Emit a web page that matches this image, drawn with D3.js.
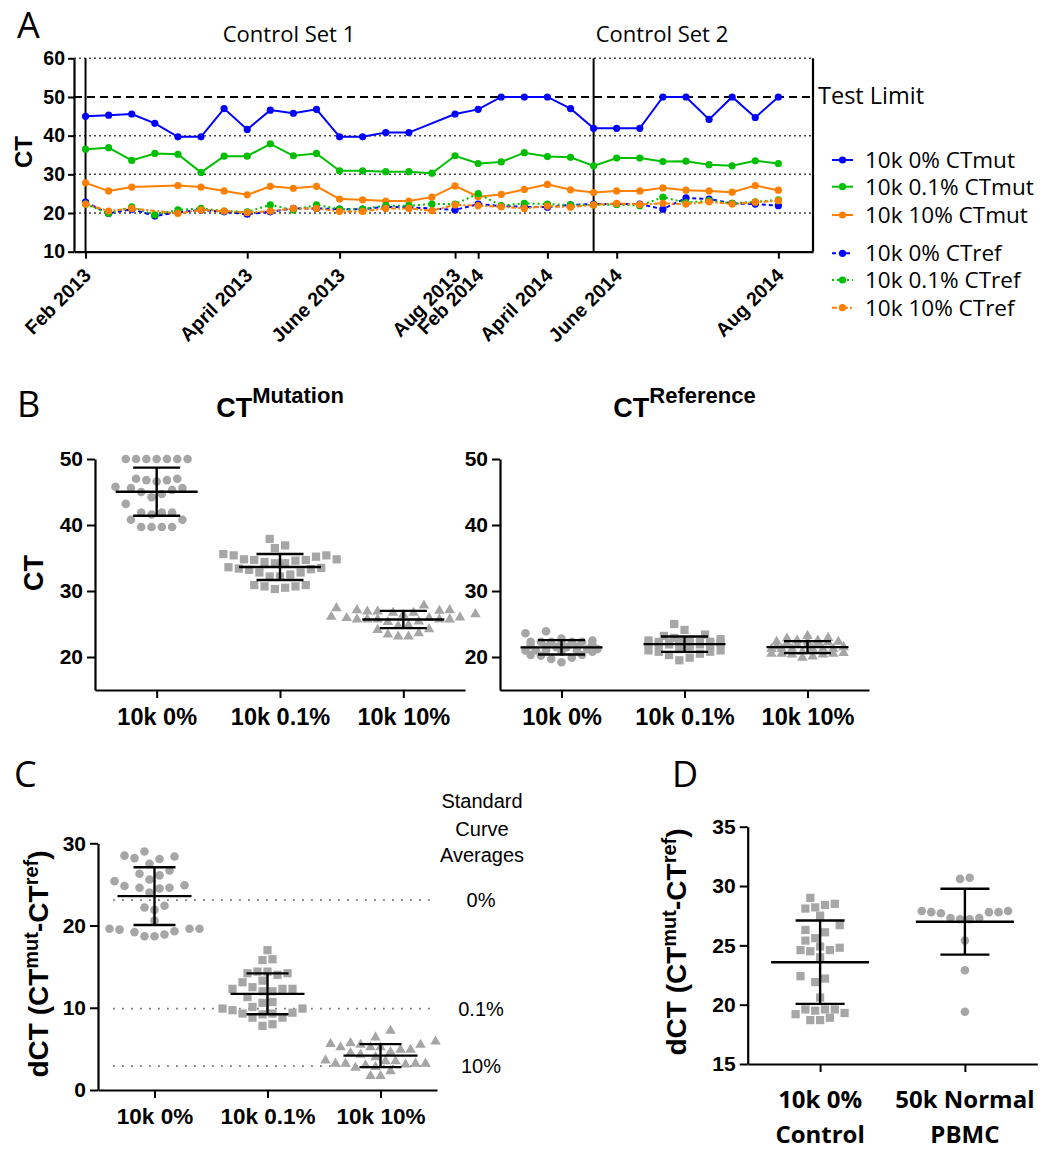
<!DOCTYPE html>
<html>
<head>
<meta charset="utf-8">
<script src="https://cdn.jsdelivr.net/npm/d3@7"></script>
<style>
  body { margin: 0; background: #fff; }
  svg { display: block; }
</style>
</head>
<body>
<svg id="fig" width="1061" height="1149"></svg>
<script>
// ---------------- data ----------------
// Panel A: one value per control run (null = run not recorded)
const runIndex = d3.range(31);
const dateTickIndex = [0, 7, 11, 16, 17, 20, 23, 30];
const dateTickLabels = ["Feb 2013", "April 2013", "June 2013", "Aug 2013", "Feb 2014", "April 2014", "June 2014", "Aug 2014"];
const controlSetStart = [0, 22];
const controlSetLabels = ["Control Set 1", "Control Set 2"];
const testLimit = 50;

const ctMut0  = [45.0,45.3,45.6,43.2,39.7,39.7,47.0,41.6,46.6,45.8,46.8,39.7,39.7,40.8,40.8,null,45.6,46.8,50,50,50,47.0,41.9,41.9,41.9,50,50,44.2,50,44.7,50];
const ctMut01 = [36.5,36.9,33.6,35.4,35.2,30.5,34.7,34.7,37.9,34.8,35.4,30.9,30.9,30.7,30.7,30.3,34.8,32.8,33.2,35.6,34.6,34.4,32.2,34.2,34.2,33.3,33.4,32.5,32.2,33.5,32.8];
const ctMut10 = [27.8,25.7,26.7,null,27.1,26.7,25.7,24.7,26.9,26.4,26.9,23.6,23.4,23.1,23.1,24.1,27.0,24.2,24.8,26.1,27.4,26.0,25.3,25.7,25.7,26.5,25.9,25.7,25.4,27.1,25.9];
const ctRef0  = [22.8,19.9,21.0,19.2,20.2,20.8,20.3,19.7,20.3,21.2,21.2,21.0,21.0,21.6,21.5,null,20.8,22.3,21.8,21.6,21.5,22.1,22.3,22.3,22.3,21.0,23.9,23.6,22.5,22.3,21.9];
const ctRef01 = [22.3,19.9,21.6,19.5,20.8,21.2,20.5,20.3,22.1,20.8,22.1,21.0,21.0,21.9,21.9,22.3,22.3,25.0,21.9,22.5,22.3,22.1,22.1,22.2,21.9,24.1,22.7,23.2,22.5,22.9,23.4];
const ctRef10 = [22.3,20.5,21.2,null,19.9,20.8,20.5,20.1,20.5,21.2,21.2,20.4,20.4,21.2,21.2,20.6,22.1,21.9,21.6,21.2,21.8,21.5,22.1,22.5,22.2,22.5,22.3,22.9,22.3,22.8,23.2];

const seriesNames  = ["10k 0% CTmut", "10k 0.1% CTmut", "10k 10% CTmut", "10k 0% CTref", "10k 0.1% CTref", "10k 10% CTref"];
const seriesValues = [ctMut0, ctMut01, ctMut10, ctRef0, ctRef01, ctRef10];

// Panels B-D
const dilutions = ["10k 0%", "10k 0.1%", "10k 10%"];
const dct0   = [22.2,25.4,24.6,24.0,19.5,18.9,26.7,21.9,26.3,24.6,25.6,18.7,18.7,19.2,19.3,24.8,24.5,28.2,28.4,28.5,24.9,19.6,19.6,19.6,29.0,26.1,20.6,27.5,22.4,28.1];
const dct01  = [14.2,17.0,12.0,15.9,14.4,9.3,14.2,14.4,15.8,14.0,13.3,9.9,9.9,8.8,8.8,8.0,12.5,7.8,11.3,13.1,12.3,12.3,10.1,12.0,12.3,9.2,10.7,9.3,9.7,10.6,9.4];
const dct10  = [5.5,5.2,5.5,7.2,5.9,5.2,4.6,6.4,5.2,5.7,3.2,3.0,1.7,1.7,3.5,4.9,2.3,3.2,4.9,5.6,4.5,3.2,3.2,3.5,4.0,3.6,2.8,3.1,4.3,2.7];
const stdCurveAverages = [23.1, 9.9, 2.9];
const stdCurveLabels = ["0%", "0.1%", "10%"];
const pbmcGroups = ["10k 0%|Control", "50k Normal|PBMC"];
const dctPbmc = [30.7,30.6,27.9,27.8,27.8,27.7,27.8,27.9,27.2,27.3,27.2,27.3,25.4,22.9,19.4];

// ---------------- style ----------------
const ARIAL = "'Liberation Sans', Arial, Helvetica, sans-serif";
const OPEN = "'Open Sans', 'Segoe UI', sans-serif";
const seriesColors = ["#0000ff", "#00bf00", "#ff7f00", "#0000ff", "#00bf00", "#ff7f00"];
const refDash = ["4,3", "2,3", "5,2,2,2"];
const DOT = "#a6a6a6";

const svg = d3.select("#fig");

function label(x, y, txt, size, opts = {}) {
  return svg.append("text").attr("x", x).attr("y", y)
    .attr("font-family", opts.family || OPEN)
    .attr("font-size", size)
    .attr("font-weight", opts.weight || "normal")
    .attr("text-anchor", opts.anchor || "start")
    .attr("fill", "#000").text(txt);
}

function styleAxis(g, size) {
  g.attr("font-family", ARIAL).attr("font-size", size).attr("font-weight", "bold");
  g.select(".domain").attr("stroke", "#000").attr("stroke-width", 2.2);
  g.selectAll(".tick line").attr("stroke", "#000").attr("stroke-width", 2);
  g.selectAll(".tick text").attr("fill", "#000");
}

// panel letters
label(17, 38, "A", 36);
label(17, 417, "B", 36);
label(14, 787, "C", 36);
label(672, 787, "D", 36);

// ================= Panel A =================
const ax = d3.scaleLinear().domain([-0.5, 31.5]).range([74, 813]);
const ay = d3.scaleLinear().domain([10, 60]).range([251.7, 58.3]);

// horizontal grid
const gA = svg.append("g");
gA.selectAll("line.grid").data([20, 30, 40, 60]).join("line")
  .attr("x1", ax(-0.5)).attr("x2", ax(31.5))
  .attr("y1", d => ay(d)).attr("y2", d => ay(d))
  .attr("stroke", "#444").attr("stroke-width", 1.5).attr("stroke-dasharray", "2,3");
gA.append("line")
  .attr("x1", ax(-0.5)).attr("x2", ax(31.5))
  .attr("y1", ay(testLimit)).attr("y2", ay(testLimit))
  .attr("stroke", "#000").attr("stroke-width", 1.8).attr("stroke-dasharray", "8,5");
label(818, 104, "Test Limit", 23.5);

// control set boundaries
controlSetStart.forEach(s => {
  gA.append("line").attr("x1", ax(s)).attr("x2", ax(s))
    .attr("y1", ay(60)).attr("y2", ay(10))
    .attr("stroke", "#000").attr("stroke-width", 2);
});
label(289, 42, controlSetLabels[0], 22, { anchor: "middle" });
label(662, 42, controlSetLabels[1], 22, { anchor: "middle" });

// right frame
gA.append("line").attr("x1", ax(31.5)).attr("x2", ax(31.5))
  .attr("y1", ay(60)).attr("y2", ay(10)).attr("stroke", "#000").attr("stroke-width", 2.2);

// axes
const gAy = svg.append("g").attr("transform", `translate(${ax(-0.5)},0)`)
  .call(d3.axisLeft(ay).tickValues([10, 20, 30, 40, 50, 60]).tickSize(6).tickSizeOuter(0).tickPadding(3));
styleAxis(gAy, 19.5);
const gAx = svg.append("g").attr("transform", `translate(0,${ay(10)})`)
  .call(d3.axisBottom(ax).tickValues(dateTickIndex).tickSize(7).tickSizeOuter(0)
    .tickFormat((d, i) => dateTickLabels[i]));
styleAxis(gAx, 19.5);
gAx.selectAll(".tick text")
  .attr("y", null).attr("dy", null)
  .attr("text-anchor", "end")
  .attr("transform", "translate(6,25) rotate(-45)");

svg.append("text").attr("transform", `translate(32,152) rotate(-90)`)
  .attr("text-anchor", "middle").attr("font-family", ARIAL).attr("font-weight", "bold")
  .attr("font-size", 24).text("CT");

// series lines (missing runs are bridged)
const lineGen = d3.line().x(d => ax(d.i)).y(d => ay(d.v));
seriesValues.forEach((vals, k) => {
  const pts = runIndex.map(i => ({ i, v: vals[i] })).filter(d => d.v != null);
  const g = svg.append("g");
  g.append("path").datum(pts).attr("d", lineGen).attr("fill", "none")
    .attr("stroke", seriesColors[k]).attr("stroke-width", 2)
    .attr("stroke-dasharray", k < 3 ? null : refDash[k - 3]);
  g.selectAll("circle").data(pts).join("circle")
    .attr("cx", d => ax(d.i)).attr("cy", d => ay(d.v)).attr("r", 3.6)
    .attr("fill", seriesColors[k]);
});

// legend
const legendY = [160, 186.7, 215, 253.3, 280, 307.7];
seriesNames.forEach((name, k) => {
  const g = svg.append("g");
  g.append("line").attr("x1", 832).attr("x2", 853).attr("y1", legendY[k]).attr("y2", legendY[k])
    .attr("stroke", seriesColors[k]).attr("stroke-width", 2)
    .attr("stroke-dasharray", k < 3 ? null : refDash[k - 3]);
  g.append("circle").attr("cx", 842.5).attr("cy", legendY[k]).attr("r", 3.6).attr("fill", seriesColors[k]);
  label(865, legendY[k] + 8, name, 22.5);
});

// ================= scatter-dot helpers =================
// Row-based swarm: values close in y share a row and are spread symmetrically,
// rows that would collide with earlier ones are pushed outward.
function swarm(values, y, d, maxHalf) {
  const pts = values.map(v => ({ v, py: y(v) })).sort((a, b) => b.py - a.py);
  const rows = [];
  let cur = null;
  for (const p of pts) {
    if (!cur || Math.abs(p.py - cur[0].py) > d * 0.5) { cur = [p]; rows.push(cur); }
    else cur.push(p);
  }
  const placed = [];
  for (const row of rows) {
    const half = row.length % 2 === 0 ? 0.5 : 0;
    const slots = [];
    for (let k = 0; k < 40; k++) {
      const o = k + half;
      if (o === 0) slots.push(0); else slots.push(-o, o);
    }
    for (const p of row) {
      let best = 0, bestScore = -1;
      for (const s of slots) {
        const ox = s * d;
        if (Math.abs(ox) > maxHalf) break;
        const md = placed.length ? d3.min(placed, q => Math.hypot(q.ox - ox, q.py - p.py)) : Infinity;
        if (md >= d * 0.98) { best = ox; bestScore = Infinity; break; }
        if (md > bestScore) { bestScore = md; best = ox; }
      }
      p.ox = best;
      placed.push(p);
    }
  }
  return placed;
}

const shapes = {
  circle: d3.symbol().type(d3.symbolCircle).size(58),
  square: d3.symbol().type(d3.symbolSquare).size(68),
  triangle: d3.symbol().type(d3.symbolTriangle).size(48)
};

function dotGroup(g, values, cx, y, shape, o) {
  const pts = swarm(values, y, o.d, o.maxHalf);
  g.selectAll(null).data(pts).join("path")
    .attr("d", shapes[shape])
    .attr("transform", p => `translate(${cx + p.ox},${p.py})`)
    .attr("fill", DOT);
  const m = d3.mean(values), sd = d3.deviation(values);
  const bars = g.append("g").attr("stroke", "#000").attr("stroke-width", 2.4);
  bars.append("line").attr("x1", cx - o.meanHalf).attr("x2", cx + o.meanHalf).attr("y1", y(m)).attr("y2", y(m));
  bars.append("line").attr("x1", cx).attr("x2", cx).attr("y1", y(m + sd)).attr("y2", y(m - sd));
  [m + sd, m - sd].forEach(v => bars.append("line")
    .attr("x1", cx - o.capHalf).attr("x2", cx + o.capHalf).attr("y1", y(v)).attr("y2", y(v)));
}

function superTitle(cx, base, main, sup, mainSize, supSize, rise) {
  const t = svg.append("text").attr("x", cx).attr("y", base).attr("text-anchor", "middle")
    .attr("font-family", ARIAL).attr("font-weight", "bold").attr("fill", "#000");
  t.append("tspan").attr("font-size", mainSize).text(main);
  t.append("tspan").attr("font-size", supSize).attr("dy", -rise).text(sup);
}

function dctLabel(x, y) {
  const t = svg.append("text").attr("transform", `translate(${x},${y}) rotate(-90)`)
    .attr("text-anchor", "middle").attr("font-family", ARIAL).attr("font-weight", "bold")
    .attr("font-size", 28).attr("fill", "#000");
  t.append("tspan").text("dCT (CT");
  t.append("tspan").attr("font-size", 20).attr("dy", -10).text("mut");
  t.append("tspan").attr("dy", 10).text("-CT");
  t.append("tspan").attr("font-size", 20).attr("dy", -10).text("ref");
  t.append("tspan").attr("dy", 10).text(")");
}

// ================= Panel B =================
const shapeOf = ["circle", "square", "triangle"];
const by = d3.scaleLinear().domain([15, 50]).range([690, 459]);

function panelB(x0, x1, sets, title, compress) {
  const bx = d3.scalePoint().domain(dilutions).range([x0, x1]).padding(0.5);
  const g = svg.append("g");
  sets.forEach((vals, i) => dotGroup(g, vals.filter(v => v != null), bx(dilutions[i]), by, shapeOf[i],
    { d: 10.3, maxHalf: compress ? 40 : 80, meanHalf: 41, capHalf: 23.5 }));
  const gy = svg.append("g").attr("transform", `translate(${x0},0)`)
    .call(d3.axisLeft(by).tickValues([20, 30, 40, 50]).tickSize(8).tickSizeOuter(0).tickPadding(4));
  styleAxis(gy, 21);
  const gx = svg.append("g").attr("transform", `translate(0,${by(15)})`)
    .call(d3.axisBottom(bx).tickSize(8).tickSizeOuter(0).tickPadding(10));
  styleAxis(gx, 23.5);
  gx.selectAll(".tick text").attr("dy", "0.71em");
  superTitle((x0 + x1) / 2, 417, "CT", title, 27, 22, 14);
}
panelB(95, 465, [ctMut0, ctMut01, ctMut10], "Mutation", false);
panelB(500, 869, [ctRef0, ctRef01, ctRef10], "Reference", true);

svg.append("text").attr("transform", `translate(43,573) rotate(-90)`)
  .attr("text-anchor", "middle").attr("font-family", ARIAL).attr("font-weight", "bold")
  .attr("font-size", 27).text("CT");

// ================= Panel C =================
const cx = d3.scalePoint().domain(dilutions).range([98, 437]).padding(0.5);
const cy = d3.scaleLinear().domain([0, 30]).range([1090, 843.3]);
const gC = svg.append("g");
gC.selectAll("line.std").data(stdCurveAverages).join("line")
  .attr("x1", 113).attr("x2", 433).attr("y1", d => cy(d)).attr("y2", d => cy(d))
  .attr("stroke", "#777").attr("stroke-width", 1.8).attr("stroke-dasharray", "1.8,7.2");
[dct0, dct01, dct10].forEach((vals, i) => dotGroup(gC, vals, cx(dilutions[i]), cy, shapeOf[i],
  { d: 10, maxHalf: 80, meanHalf: 37, capHalf: 21 }));
const gCy = svg.append("g").attr("transform", "translate(98,0)")
  .call(d3.axisLeft(cy).tickValues([0, 10, 20, 30]).tickSize(8).tickSizeOuter(0).tickPadding(4));
styleAxis(gCy, 21);
const gCx = svg.append("g").attr("transform", `translate(0,${cy(0)})`)
  .call(d3.axisBottom(cx).tickSize(8).tickSizeOuter(0).tickPadding(10));
styleAxis(gCx, 22.5);
gCx.selectAll(".tick text").attr("dy", "0.71em");
dctLabel(48, 964);

["Standard", "Curve", "Averages"].forEach((t, i) => label(482, [808, 836, 862][i], t, 20, { family: ARIAL, anchor: "middle" }));
stdCurveAverages.forEach((v, i) => label(481, cy(v) + 7, stdCurveLabels[i], 20, { family: ARIAL, anchor: "middle" }));

// ================= Panel D =================
const dx = d3.scalePoint().domain(pbmcGroups).range([747.7, 1037.3]).padding(0.5);
const dy = d3.scaleLinear().domain([15, 35]).range([1064, 826.7]);
const gD = svg.append("g");
dotGroup(gD, dct0, dx(pbmcGroups[0]), dy, "square", { d: 9.8, maxHalf: 80, meanHalf: 49, capHalf: 24.5 });
dotGroup(gD, dctPbmc, dx(pbmcGroups[1]), dy, "circle", { d: 9.6, maxHalf: 80, meanHalf: 49, capHalf: 24.5 });
const gDy = svg.append("g").attr("transform", "translate(747.7,0)")
  .call(d3.axisLeft(dy).tickValues([15, 20, 25, 30, 35]).tickSize(8).tickSizeOuter(0).tickPadding(4));
styleAxis(gDy, 21);
const gDx = svg.append("g").attr("transform", `translate(0,${dy(15)})`)
  .call(d3.axisBottom(dx).tickSize(8).tickSizeOuter(0).tickFormat(() => ""));
styleAxis(gDx, 22);
pbmcGroups.forEach(grp => {
  const [l1, l2] = grp.split("|");
  label(dx(grp), 1108, l1, 24, { anchor: "middle", weight: "bold" });
  label(dx(grp), 1143, l2, 24, { anchor: "middle", weight: "bold" });
});
dctLabel(686, 942);
</script>
</body>
</html>
